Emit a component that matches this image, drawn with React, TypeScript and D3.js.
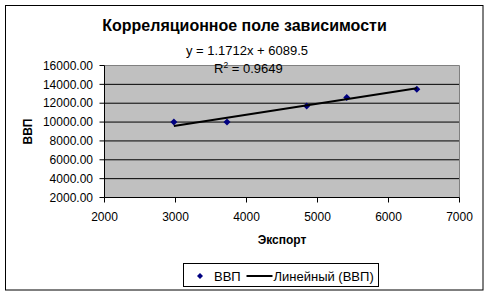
import React from "react";
import * as d3 from "d3";

const exportValues = [2977, 3725, 4848, 5412, 6399];
const gdpValues = [10000, 10000, 11714, 12597, 13490];
const xTicks = [2000, 3000, 4000, 5000, 6000, 7000];
const yTicks = [2000, 4000, 6000, 8000, 10000, 12000, 14000, 16000];
const slope = 1.1712;
const intercept = 6089.5;
const titleText = "Корреляционное поле зависимости";
const eqText = "y = 1.1712x + 6089.5";
const r2Value = "0.9649";
const xTitle = "Экспорт";
const yTitle = "ВВП";
const seriesName = "ВВП";
const trendName = "Линейный (ВВП)";

const W = 491;
const H = 296;
const FONT = "Arial, 'Liberation Sans', sans-serif";

export default function App() {
  const left = 104.5, right = 459.5, top = 65.5, bottom = 197.5;
  const x = d3.scaleLinear().domain([2000, 7000]).range([left, right]);
  const y = d3.scaleLinear().domain([2000, 16000]).range([bottom, top]);
  const xMin = d3.min(exportValues) as number;
  const xMax = d3.max(exportValues) as number;
  const trend = d3.line<number>().x((d) => x(d)).y((d) => y(slope * d + intercept));
  const diamond = (cx: number, cy: number, r: number) =>
    `M${cx},${cy - r}L${cx + r},${cy}L${cx},${cy + r}L${cx - r},${cy}Z`;

  return (
    <svg width={W} height={H} style={{ position: "absolute", left: 0, top: 0, background: "#fff" }} fontFamily={FONT}>
      <rect x={5.5} y={5.5} width={477.5} height={284.5} fill="#fff" stroke="#000" strokeWidth={1} />
      <text x={244.5} y={31} textAnchor="middle" fontSize={16} fontWeight="bold" fill="#000">{titleText}</text>
      {/* plot area */}
      <rect x={left} y={top} width={right - left} height={bottom - top} fill="#C0C0C0" />
      {yTicks.filter((t) => t > 2000 && t < 16000).map((t) => (
        <line key={"g" + t} x1={left} x2={right} y1={y(t)} y2={y(t)} stroke="#000" strokeWidth={1} />
      ))}
      <path d={`M${left},${top}H${right}V${bottom}`} fill="none" stroke="#808080" strokeWidth={1} />
      {/* axes */}
      <line x1={left} x2={left} y1={top} y2={bottom} stroke="#000" />
      <line x1={left} x2={right} y1={bottom} y2={bottom} stroke="#000" />
      {yTicks.map((t) => (
        <g key={"y" + t}>
          <line x1={left - 5} x2={left} y1={y(t)} y2={y(t)} stroke="#000" />
          <text x={93} y={y(t) + 4.2} textAnchor="end" fontSize={12} fill="#000">{t.toFixed(2)}</text>
        </g>
      ))}
      {xTicks.map((t) => (
        <g key={"x" + t}>
          <line x1={x(t)} x2={x(t)} y1={bottom} y2={bottom + 5} stroke="#000" />
          <text x={x(t)} y={220.5} textAnchor="middle" fontSize={12} fill="#000">{t}</text>
        </g>
      ))}
      <text x={(left + right) / 2} y={244} textAnchor="middle" fontSize={12} fontWeight="bold" fill="#000">{xTitle}</text>
      <text transform={`translate(31.5,${(top + bottom) / 2}) rotate(-90)`} textAnchor="middle" fontSize={12} fontWeight="bold" fill="#000">{yTitle}</text>
      {/* points */}
      {exportValues.map((v, i) => (
        <path key={"p" + i} d={diamond(x(v), y(gdpValues[i]), 3.5)} fill="#000080" />
      ))}
      {/* trend */}
      <path d={trend([xMin, xMax]) || ""} fill="none" stroke="#000" strokeWidth={2} />
      {/* equation */}
      <text x={247} y={55} textAnchor="middle" fontSize={13} fill="#000">{eqText}</text>
      <text x={214} y={73} fontSize={13} fill="#000">
        R<tspan dy={-5} fontSize={8.5}>2</tspan><tspan dy={5}>{" = " + r2Value}</tspan>
      </text>
      {/* legend */}
      <rect x={183.5} y={263.5} width={195} height={23} fill="#fff" stroke="#000" />
      <path d={diamond(200, 276, 3)} fill="#000080" />
      <text x={214} y={280.5} fontSize={13} fill="#000">{seriesName}</text>
      <line x1={246.5} x2={272.5} y1={276} y2={276} stroke="#000" strokeWidth={2} />
      <text x={273.5} y={280.5} fontSize={13} fill="#000">{trendName}</text>
    </svg>
  );
}
